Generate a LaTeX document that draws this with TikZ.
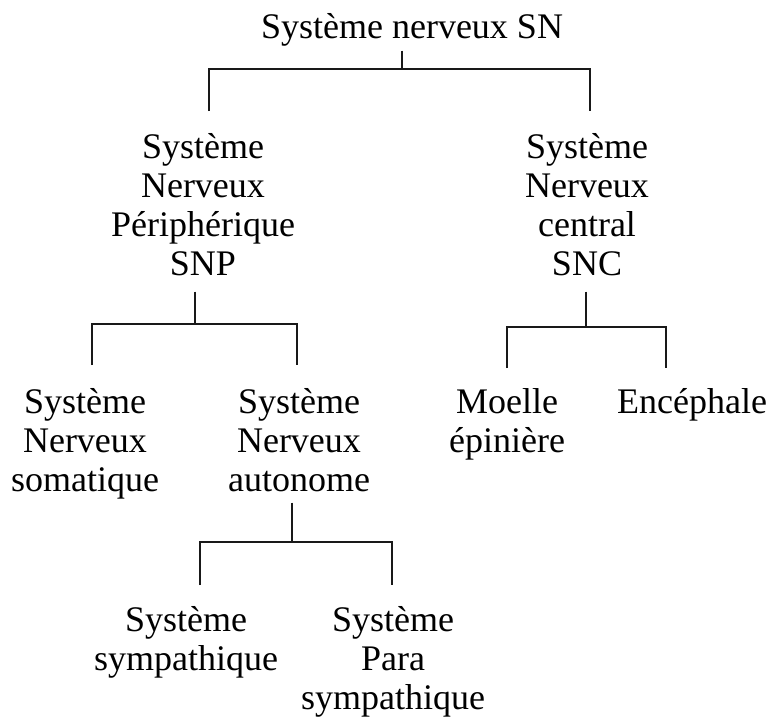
\documentclass[tikz,border=0pt]{standalone}
\usepackage{fontspec}
\setmainfont{Liberation Serif}
\newcommand\mlines[1]{\begin{tabular}[t]{@{}c@{}}#1\end{tabular}}
\tikzset{
  lbl/.style={inner sep=0pt, outer sep=0pt, anchor=base, font=\fontsize{36}{39}\selectfont},
  tree/.style={line width=1.3pt, line cap=butt, line join=miter, draw=black!90}
}
\begin{document}
\begin{tikzpicture}[x=1pt,y=-1pt]
\useasboundingbox (0,0) rectangle (773,717);
% nodes
\node[lbl] (sn)     at (412,39)  {\mlines{Système nerveux SN}};
\node[lbl] (snp)    at (203,158) {\mlines{Système\\Nerveux\\Périphérique\\SNP}};
\node[lbl] (snc)    at (587,158) {\mlines{Système\\Nerveux\\central\\SNC}};
\node[lbl] (soma)   at (85,413)  {\mlines{Système\\Nerveux\\somatique}};
\node[lbl] (auto)   at (299,413) {\mlines{Système\\Nerveux\\autonome}};
\node[lbl] (moelle) at (507,413) {\mlines{Moelle\\épinière}};
\node[lbl] (enc)    at (692,413) {\mlines{Encéphale}};
\node[lbl] (symp)   at (186,631) {\mlines{Système\\sympathique}};
\node[lbl] (para)   at (393,631) {\mlines{Système\\Para\\sympathique}};
% junctions and drop ends
\coordinate (ja) at (402,69);
\coordinate (snp-top) at (209,111);
\coordinate (snc-top) at (590,111);
\coordinate (jb) at (195,324);
\coordinate (soma-top) at (92,365);
\coordinate (auto-top) at (297,365);
\coordinate (jc) at (586,327);
\coordinate (moelle-top) at (507,368);
\coordinate (enc-top) at (666,368);
\coordinate (jd) at (292,542);
\coordinate (symp-top) at (200,585);
\coordinate (para-top) at (392,585);
% connectors
\draw[tree] (sn.south -| ja) -- (ja);
\draw[tree] (snp-top) |- (ja) -| (snc-top);
\draw[tree] ([yshift=-5pt]snp.south -| jb) -- (jb);
\draw[tree] (soma-top) |- (jb) -| (auto-top);
\draw[tree] ([yshift=-5pt]snc.south -| jc) -- (jc);
\draw[tree] (moelle-top) |- (jc) -| (enc-top);
\draw[tree] (auto.south -| jd) -- (jd);
\draw[tree] (symp-top) |- (jd) -| (para-top);
\end{tikzpicture}
\end{document}
